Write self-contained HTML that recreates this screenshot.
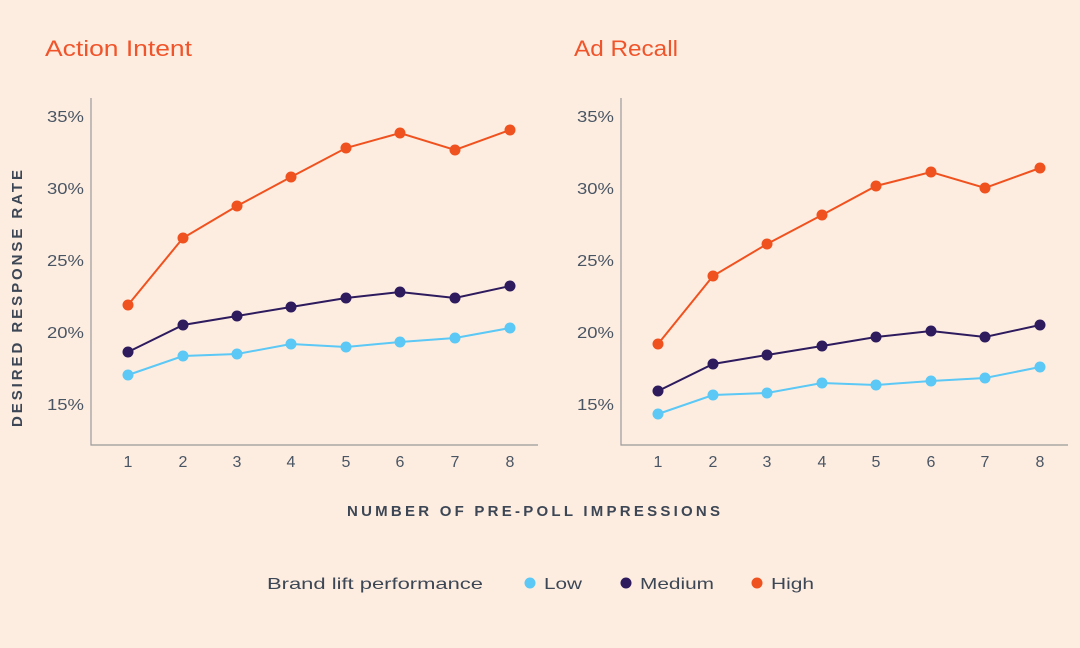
<!DOCTYPE html>
<html><head><meta charset="utf-8"><style>
html,body{margin:0;padding:0;background:#fdede1;}
svg{display:block;font-family:"Liberation Sans",sans-serif;}
</style></head><body>
<svg width="1080" height="648" viewBox="0 0 1080 648" xmlns="http://www.w3.org/2000/svg">
<rect width="1080" height="648" fill="#fdede1"/>
<text x="45" y="56" font-size="22" fill="#f0542a" textLength="147" lengthAdjust="spacingAndGlyphs">Action Intent</text>
<text x="574" y="56" font-size="22" fill="#f0542a" textLength="104" lengthAdjust="spacingAndGlyphs">Ad Recall</text>
<g stroke="#9a9a9a" stroke-width="1.2" fill="none">
<path d="M91 98V445H538"/>
<path d="M621 98V445H1068"/>
</g>
<g font-size="16" fill="#4a5563">
<text x="47" y="122" textLength="37" lengthAdjust="spacingAndGlyphs">35%</text><text x="47" y="194" textLength="37" lengthAdjust="spacingAndGlyphs">30%</text><text x="47" y="266" textLength="37" lengthAdjust="spacingAndGlyphs">25%</text><text x="47" y="338" textLength="37" lengthAdjust="spacingAndGlyphs">20%</text><text x="47" y="410" textLength="37" lengthAdjust="spacingAndGlyphs">15%</text>
<text x="577" y="122" textLength="37" lengthAdjust="spacingAndGlyphs">35%</text><text x="577" y="194" textLength="37" lengthAdjust="spacingAndGlyphs">30%</text><text x="577" y="266" textLength="37" lengthAdjust="spacingAndGlyphs">25%</text><text x="577" y="338" textLength="37" lengthAdjust="spacingAndGlyphs">20%</text><text x="577" y="410" textLength="37" lengthAdjust="spacingAndGlyphs">15%</text>
</g>
<g font-size="16" fill="#4a5563" text-anchor="middle">
<text x="128" y="467">1</text><text x="183" y="467">2</text><text x="237" y="467">3</text><text x="291" y="467">4</text><text x="346" y="467">5</text><text x="400" y="467">6</text><text x="455" y="467">7</text><text x="510" y="467">8</text>
<text x="658" y="467">1</text><text x="713" y="467">2</text><text x="767" y="467">3</text><text x="822" y="467">4</text><text x="876" y="467">5</text><text x="931" y="467">6</text><text x="985" y="467">7</text><text x="1040" y="467">8</text>
</g>
<text x="0" y="0" font-size="15" font-weight="bold" fill="#3c4654" textLength="257" lengthAdjust="spacing" transform="translate(22 427) rotate(-90)">DESIRED RESPONSE RATE</text>
<text x="347" y="516" font-size="15" font-weight="bold" fill="#3c4654" textLength="373" lengthAdjust="spacing">NUMBER OF PRE-POLL IMPRESSIONS</text>
<g fill="none" stroke-width="2">
<polyline stroke="#f0521f" points="128,305 183,238 237,206 291,177 346,148 400,133 455,150 510,130"/>
<polyline stroke="#2d1b5e" points="128,352 183,325 237,316 291,307 346,298 400,292 455,298 510,286"/>
<polyline stroke="#5bc8f5" points="128,375 183,356 237,354 291,344 346,347 400,342 455,338 510,328"/>
<polyline stroke="#f0521f" points="658,344 713,276 767,244 822,215 876,186 931,172 985,188 1040,168"/>
<polyline stroke="#2d1b5e" points="658,391 713,364 767,355 822,346 876,337 931,331 985,337 1040,325"/>
<polyline stroke="#5bc8f5" points="658,414 713,395 767,393 822,383 876,385 931,381 985,378 1040,367"/>
</g>
<g fill="#f0521f">
<circle cx="128" cy="305" r="5.5"/><circle cx="183" cy="238" r="5.5"/><circle cx="237" cy="206" r="5.5"/><circle cx="291" cy="177" r="5.5"/><circle cx="346" cy="148" r="5.5"/><circle cx="400" cy="133" r="5.5"/><circle cx="455" cy="150" r="5.5"/><circle cx="510" cy="130" r="5.5"/>
<circle cx="658" cy="344" r="5.5"/><circle cx="713" cy="276" r="5.5"/><circle cx="767" cy="244" r="5.5"/><circle cx="822" cy="215" r="5.5"/><circle cx="876" cy="186" r="5.5"/><circle cx="931" cy="172" r="5.5"/><circle cx="985" cy="188" r="5.5"/><circle cx="1040" cy="168" r="5.5"/>
</g>
<g fill="#2d1b5e">
<circle cx="128" cy="352" r="5.5"/><circle cx="183" cy="325" r="5.5"/><circle cx="237" cy="316" r="5.5"/><circle cx="291" cy="307" r="5.5"/><circle cx="346" cy="298" r="5.5"/><circle cx="400" cy="292" r="5.5"/><circle cx="455" cy="298" r="5.5"/><circle cx="510" cy="286" r="5.5"/>
<circle cx="658" cy="391" r="5.5"/><circle cx="713" cy="364" r="5.5"/><circle cx="767" cy="355" r="5.5"/><circle cx="822" cy="346" r="5.5"/><circle cx="876" cy="337" r="5.5"/><circle cx="931" cy="331" r="5.5"/><circle cx="985" cy="337" r="5.5"/><circle cx="1040" cy="325" r="5.5"/>
</g>
<g fill="#5bc8f5">
<circle cx="128" cy="375" r="5.5"/><circle cx="183" cy="356" r="5.5"/><circle cx="237" cy="354" r="5.5"/><circle cx="291" cy="344" r="5.5"/><circle cx="346" cy="347" r="5.5"/><circle cx="400" cy="342" r="5.5"/><circle cx="455" cy="338" r="5.5"/><circle cx="510" cy="328" r="5.5"/>
<circle cx="658" cy="414" r="5.5"/><circle cx="713" cy="395" r="5.5"/><circle cx="767" cy="393" r="5.5"/><circle cx="822" cy="383" r="5.5"/><circle cx="876" cy="385" r="5.5"/><circle cx="931" cy="381" r="5.5"/><circle cx="985" cy="378" r="5.5"/><circle cx="1040" cy="367" r="5.5"/>
</g>
<g font-size="16" fill="#3c4654">
<text x="267" y="589" textLength="216" lengthAdjust="spacingAndGlyphs">Brand lift performance</text>
<circle cx="530" cy="583" r="5.5" fill="#5bc8f5"/><text x="544" y="589" textLength="38" lengthAdjust="spacingAndGlyphs">Low</text>
<circle cx="626" cy="583" r="5.5" fill="#2d1b5e"/><text x="640" y="589" textLength="74" lengthAdjust="spacingAndGlyphs">Medium</text>
<circle cx="757" cy="583" r="5.5" fill="#f0521f"/><text x="771" y="589" textLength="43" lengthAdjust="spacingAndGlyphs">High</text>
</g>
</svg>
</body></html>
